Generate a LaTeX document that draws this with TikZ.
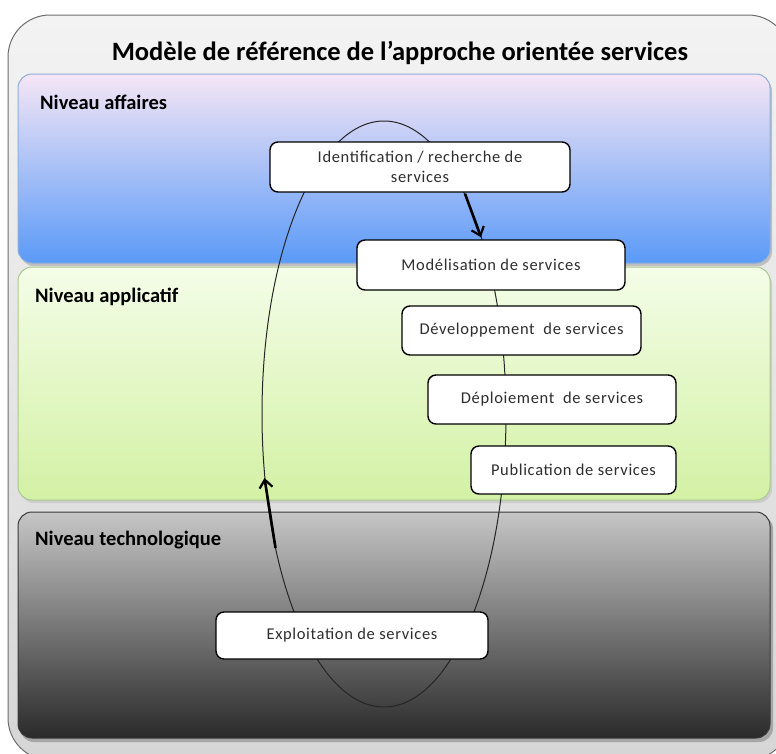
\documentclass[tikz,border=0pt]{standalone}
\usepackage{fontspec}
\setmainfont{Carlito}
\usetikzlibrary{arrows.meta,calc,shadows}

\definecolor{frameTop}{HTML}{F3F3F3}
\definecolor{frameBot}{HTML}{D6D6D6}
\definecolor{frameLine}{HTML}{6E6E6E}
\definecolor{bizTop}{HTML}{F6E6F6}
\definecolor{bizMid}{HTML}{B9CDF2}
\definecolor{bizBot}{HTML}{5A9AF7}
\definecolor{bizLine}{HTML}{8DAFD8}
\definecolor{appTop}{HTML}{F4FDE8}
\definecolor{appBot}{HTML}{D3F1A4}
\definecolor{appLine}{HTML}{A9C98E}
\definecolor{techTop}{HTML}{C6C6C6}
\definecolor{techBot}{HTML}{2A2A2A}
\definecolor{techLine}{HTML}{3A3A3A}
\definecolor{boxText}{HTML}{2E2E2E}

\tikzset{
  layer/.style={rounded corners=14pt, line width=1pt},
  layertitle/.style={anchor=west, font=\bfseries\fontsize{20.5}{22}\selectfont, text=black, inner sep=0pt},
  stage/.style={draw=black, line width=1.4pt, fill=white, rounded corners=8pt,
    font=\fontsize{16.5}{20}\selectfont\addfontfeature{LetterSpace=4}, text=boxText,
    align=center, inner sep=0pt},
  cycle/.style={draw=black!85, line width=1pt},
  flow/.style={line width=2.6pt, -{Straight Barb[length=8pt,width=13pt,line width=2.2pt]}}
}

\begin{document}
\begin{tikzpicture}[x=1pt,y=-1pt]
  \useasboundingbox (0,0) rectangle (776,753);

  % outer frame
  \shade[top color=frameTop, bottom color=frameBot, rounded corners=42pt]
    (8,15) rectangle (790,760);
  \draw[frameLine, line width=1pt, rounded corners=42pt]
    (8,15) rectangle (790,760);

  \node[font=\bfseries\fontsize{26.5}{30}\selectfont] (title) at (400,53)
    {Modèle de référence de l’approche orientée services};

  % business layer
  \fill[black!25, layer] (20,77) rectangle (772,266);
  \shade[layer, top color=bizTop, middle color=bizMid, bottom color=bizBot]
    (18,74) rectangle (770,263);
  \draw[layer, bizLine] (18,74) rectangle (770,263);
  \node[layertitle] (lbiz) at (40,102) {Niveau affaires};

  % application layer
  \fill[black!20, layer] (20,270) rectangle (772,503);
  \shade[layer, top color=appTop, bottom color=appBot]
    (18,267) rectangle (770,500);
  \draw[layer, appLine] (18,267) rectangle (770,500);
  \node[layertitle] (lapp) at (35,297) {Niveau applicatif};

  % technology layer
  \fill[black!35, layer] (20,515) rectangle (773,742);
  \shade[layer, top color=techTop, bottom color=techBot]
    (18,512) rectangle (770,738);
  \draw[layer, techLine] (18,512) rectangle (770,738);
  \node[layertitle] (ltech) at (35,540) {Niveau technologique};

  % life cycle loop
  \draw[cycle] (384,414) ellipse [x radius=122, y radius=293];

  % stages
  \node[stage, minimum width=300pt, minimum height=50pt] (ident) at (420,167)
    {Identification / recherche de\\services};
  \node[stage, minimum width=268pt, minimum height=50pt] (model) at (491,265)
    {Modélisation de services};
  \node[stage, minimum width=239pt, minimum height=49pt] (dev) at (521.5,330.5)
    {Développement\ \ de services};
  \node[stage, minimum width=248pt, minimum height=49pt] (depl) at (552,399.5)
    {Déploiement\ \ de services};
  \node[stage, minimum width=205pt, minimum height=48pt] (pub) at (573.5,470)
    {Publication de services};
  \node[stage, minimum width=272pt, minimum height=47pt] (expl) at (352,635.5)
    {Exploitation de services};

  % flow markers on the loop
  \draw[flow] ($(ident.south)+(45,1)$) -- ($(model.north)+(-10,-2)$);
  \coordinate (upFrom) at (275.5,548);
  \coordinate (upTo) at (264.5,478);
  \draw[flow] (upFrom) -- (upTo);
\end{tikzpicture}
\end{document}
